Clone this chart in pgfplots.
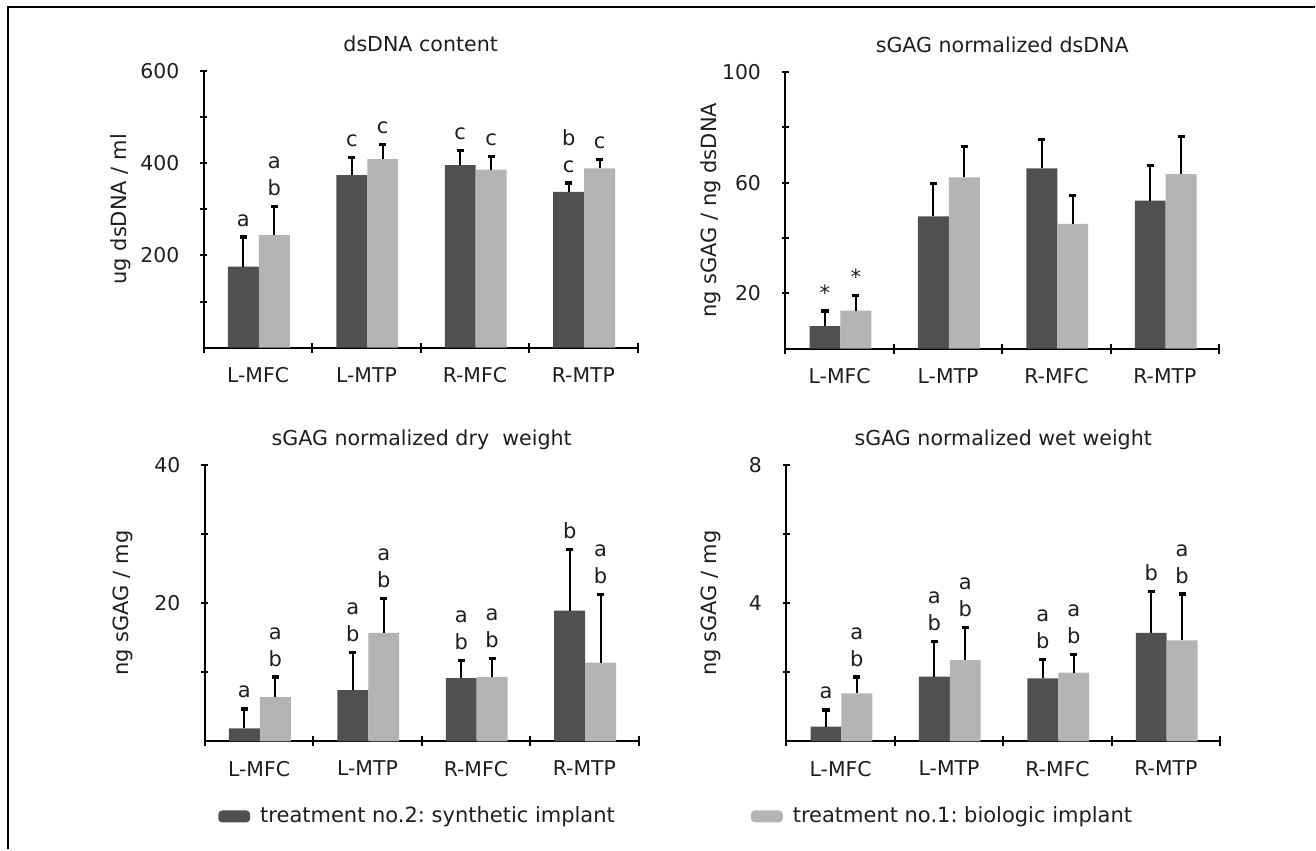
\documentclass[border=0pt]{standalone}
\usepackage{fontspec}
\setmainfont{DejaVu Sans}
\usepackage{pgfplots}
\pgfplotsset{compat=1.18}
\definecolor{darkbar}{HTML}{505050}
\definecolor{lightbar}{HTML}{B4B4B4}
\definecolor{txt}{HTML}{1E1E1E}

\tikzset{lbl/.style={anchor=base, yshift=5.5pt, font=\fontsize{10.5}{12}\selectfont, text=txt, inner sep=0pt}}

% letters above the error bars: one letter, or a stack of two
\newcommand{\one}[3]{\node[lbl] at (axis cs:#1,#2) {#3};}
\newcommand{\two}[4]{\node[lbl] at (axis cs:#1,#2) {#4};\node[lbl,yshift=13.5pt] at (axis cs:#1,#2) {#3};}

\pgfplotsset{
  panel/.style={
    scale only axis, width=217pt, height=138.5pt,
    anchor=south west, clip=false,
    xmin=0, xmax=4, ymin=0,
    axis x line*=bottom, axis y line*=left,
    axis line style={line width=1pt, black},
    tick align=center,
    xtick={0.5,1.5,2.5,3.5},
    xticklabels={L-MFC,L-MTP,R-MFC,R-MTP},
    minor xtick={0,1,2,3,4},
    major tick length=3.4pt, minor tick length=5pt,
    major x tick style={draw=none},
    every tick/.style={line width=1pt, black},
    tick label style={font=\fontsize{10.2}{12}\selectfont, text=txt},
    xticklabel style={yshift=-4.5pt},
    yticklabel style={xshift=-7pt},
    title style={font=\fontsize{10.3}{12}\selectfont, text=txt, at={(0.5,1)}, anchor=center},
    ylabel style={font=\fontsize{10.5}{12}\selectfont, text=txt},
    legend style={draw=none, fill=none, inner sep=0pt, anchor=west,
      font=\fontsize{10.5}{12}\selectfont, text=txt,
      /tikz/every odd column/.append style={column sep=3pt}},
    legend image code/.code={\fill[#1, draw=none, rounded corners=2pt] (0pt,-3pt) rectangle (16pt,3pt);},
  },
  errs/.style={
    error bars/y dir=plus, error bars/y explicit, error bars/error mark=-,
    error bars/error bar style={line width=1pt, black},
    error bars/error mark options={rotate=90, line width=1.6pt, mark size=1.8pt, black}},
  dk/.style={ybar, bar width=0.285, bar shift=0pt, fill=darkbar, draw=none, errs},
  lt/.style={ybar, bar width=0.285, bar shift=0pt, fill=lightbar, draw=none, errs},
}

\begin{document}
\begin{tikzpicture}
\path (0,0) rectangle (658pt,425pt);
\draw[line width=1pt, black] (4pt,0pt) -- (4pt,421.5pt) -- (658pt,421.5pt);

% dsDNA content
\begin{axis}[panel, at={(102pt,251pt)},
  ymax=600, ytick={100,200,300,400,500,600}, yticklabels={,200,,400,,600},
  title={dsDNA content}, title style={yshift=7.5pt},
  ylabel={ug dsDNA / ml},
  ylabel style={at={(axis description cs:-0.192,0.5)}, anchor=center}]
\addplot[dk] coordinates {(0.365,176) +- (0,64) (1.365,374) +- (0,38) (2.365,396) +- (0,31) (3.365,338) +- (0,19)};
\addplot[lt] coordinates {(0.65,244) +- (0,63) (1.65,409) +- (0,31) (2.65,386) +- (0,29) (3.65,389) +- (0,19)};
\one{0.365}{240}{a} \two{0.65}{307}{a}{b}
\one{1.365}{412}{c} \one{1.65}{440}{c}
\one{2.365}{427}{c} \one{2.65}{415}{c}
\two{3.365}{357}{b}{c} \one{3.65}{408}{c}
\end{axis}

% sGAG normalized dsDNA
\begin{axis}[panel, at={(393pt,250.5pt)},
  ymax=100, ytick={20,40,60,80,100}, yticklabels={20,,60,,100},
  title={sGAG normalized dsDNA}, title style={yshift=7.5pt},
  ylabel={ng sGAG / ng dsDNA},
  ylabel style={at={(axis description cs:-0.173,0.5)}, anchor=center}]
\addplot[dk] coordinates {(0.365,8.2) +- (0,5.4) (1.365,47.8) +- (0,12) (2.365,65.2) +- (0,10.4) (3.365,53.5) +- (0,12.6)};
\addplot[lt] coordinates {(0.65,13.8) +- (0,5.5) (1.65,61.9) +- (0,11.1) (2.65,45.1) +- (0,10.4) (3.65,63.1) +- (0,13.5)};
\one{0.365}{13.6}{*} \one{0.65}{19.3}{*}
\end{axis}

% sGAG normalized dry weight
\begin{axis}[panel, at={(102.5pt,54pt)},
  ymax=40, ytick={10,20,30,40}, yticklabels={,20,,40},
  title={sGAG normalized dry\ \ weight}, title style={yshift=6.5pt},
  ylabel={ng sGAG / mg},
  ylabel style={at={(axis description cs:-0.19,0.5)}, anchor=center},
  legend style={at={(axis description cs:0.03,-0.271)}}]
\addplot[dk] coordinates {(0.365,1.9) +- (0,2.8) (1.365,7.4) +- (0,5.4) (2.365,9.15) +- (0,2.55) (3.365,18.9) +- (0,8.8)};
\addlegendentry{treatment no.2:\ synthetic implant}
\addplot[lt] coordinates {(0.65,6.4) +- (0,2.9) (1.65,15.7) +- (0,4.9) (2.65,9.3) +- (0,2.7) (3.65,11.4) +- (0,9.8)};
\one{0.365}{4.7}{a} \two{0.65}{9.3}{a}{b}
\two{1.365}{12.8}{a}{b} \two{1.65}{20.6}{a}{b}
\two{2.365}{11.7}{a}{b} \two{2.65}{12.0}{a}{b}
\one{3.365}{27.7}{b} \two{3.65}{21.2}{a}{b}
\end{axis}

% sGAG normalized wet weight
\begin{axis}[panel, at={(393.5pt,54pt)},
  ymax=8, ytick={2,4,6,8}, yticklabels={,4,,8},
  title={sGAG normalized wet weight}, title style={yshift=6.5pt},
  ylabel={ng sGAG / mg},
  ylabel style={at={(axis description cs:-0.175,0.5)}, anchor=center},
  legend style={at={(axis description cs:-0.083,-0.271)}}]
\addplot[forget plot, dk] coordinates {(0.365,0.43) +- (0,0.48) (1.365,1.87) +- (0,1.03) (2.365,1.82) +- (0,0.55) (3.365,3.14) +- (0,1.2)};
\addplot[lt] coordinates {(0.65,1.39) +- (0,0.47) (1.65,2.35) +- (0,0.94) (2.65,1.99) +- (0,0.53) (3.65,2.92) +- (0,1.34)};
\addlegendentry{treatment no.1:\ biologic implant}
\one{0.365}{0.91}{a} \two{0.65}{1.86}{a}{b}
\two{1.365}{2.9}{a}{b} \two{1.65}{3.29}{a}{b}
\two{2.365}{2.37}{a}{b} \two{2.65}{2.52}{a}{b}
\one{3.365}{4.34}{b} \two{3.65}{4.26}{a}{b}
\end{axis}
\end{tikzpicture}
\end{document}
